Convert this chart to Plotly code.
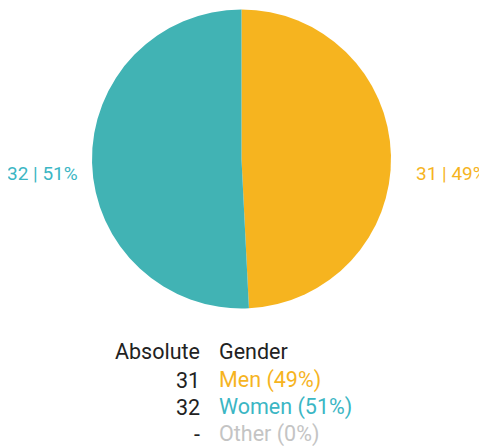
import plotly.graph_objects as go

categories = ["Men", "Women", "Other"]
counts = [31, 32, 0]
slice_colors = ["#F6B41F", "#41B3B4", "#C8C8C8"]
text_colors = ["#F6B41F", "#3BB6C4", "#C4C4C4"]

total = sum(counts)
pcts = [round(100 * c / total) for c in counts]

W, H = 487, 446
OFF = 8  # page body margin


def px(x):
    return (x - OFF) / W


def py(y):
    return 1 - (y - OFF) / H


fig = go.Figure()
fig.add_trace(go.Pie(
    labels=categories, values=counts,
    marker=dict(colors=slice_colors, line=dict(width=0)),
    sort=False, direction="clockwise", rotation=0,
    textinfo="none", hoverinfo="label+value+percent",
    domain=dict(x=[px(92), px(391)], y=[py(309), py(9)]),
    showlegend=False,
))

font = "Roboto, sans-serif"
LS = 19
ann = []
ann.append(dict(x=px(414), y=py(174), xref="paper", yref="paper", xanchor="left", yanchor="middle",
                text=f"{counts[0]} | {pcts[0]}%", showarrow=False,
                font=dict(family=font, size=LS, color=text_colors[0])))
ann.append(dict(x=px(80), y=py(174), xref="paper", yref="paper", xanchor="right", yanchor="middle",
                text=f"{counts[1]} | {pcts[1]}%", showarrow=False,
                font=dict(family=font, size=LS, color=text_colors[1])))

row_y = [351, 380, 407, 434]
TS = 21.5
ann.append(dict(x=px(202), y=py(row_y[0]), xref="paper", yref="paper", xanchor="right", yanchor="middle",
                text="Absolute", showarrow=False, font=dict(family=font, size=TS, color="#222222")))
ann.append(dict(x=px(217), y=py(row_y[0]), xref="paper", yref="paper", xanchor="left", yanchor="middle",
                text="Gender", showarrow=False, font=dict(family=font, size=TS, color="#222222")))
for i, (cat, c, p) in enumerate(zip(categories, counts, pcts)):
    y = py(row_y[i + 1])
    ann.append(dict(x=px(202), y=y, xref="paper", yref="paper", xanchor="right", yanchor="middle",
                    text=str(c) if c > 0 else "-", showarrow=False,
                    font=dict(family=font, size=TS, color="#222222")))
    ann.append(dict(x=px(217), y=y, xref="paper", yref="paper", xanchor="left", yanchor="middle",
                    text=f"{cat} ({p}%)", showarrow=False,
                    font=dict(family=font, size=TS, color=text_colors[i])))

fig.update_layout(
    width=W, height=H, margin=dict(l=0, r=0, t=0, b=0),
    paper_bgcolor="white", plot_bgcolor="white",
    annotations=ann,
)
fig.write_html("out.html", post_script="document.documentElement.style.overflow='hidden';document.body.style.overflow='hidden';")
